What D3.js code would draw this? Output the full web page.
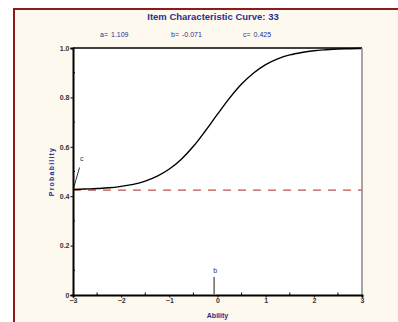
<!DOCTYPE html>
<html>
<head>
<meta charset="utf-8">
<script src="https://cdn.jsdelivr.net/npm/d3@7"></script>
<style>
  html, body { margin: 0; padding: 0; background: #ffffff; }
  svg { display: block; }
  text { font-family: "Liberation Sans Narrow", "Liberation Sans", Arial, sans-serif; }
</style>
</head>
<body>
<svg id="chart" width="398" height="322"></svg>
<script>
// Item parameters shown in the header
const itemNumber = 33;
const paramA = 1.109;
const paramB = -0.071;
const paramC = 0.425;

// Ability levels and probability of a correct response along the curve
const ability = [-3, -2.75, -2.5, -2.25, -2, -1.75, -1.5, -1.25, -1, -0.75, -0.5, -0.25,
                 0, 0.25, 0.5, 0.75, 1, 1.25, 1.5, 1.75, 2, 2.25, 2.5, 2.75, 3];
const probability = [0.427, 0.429, 0.431, 0.434, 0.440, 0.448, 0.461, 0.481, 0.510, 0.550,
                     0.602, 0.665, 0.732, 0.797, 0.854, 0.899, 0.933, 0.956, 0.972, 0.982,
                     0.989, 0.993, 0.996, 0.997, 0.998];

// Axis ticks
const xTicks = [-3, -2, -1, 0, 1, 2, 3];
const xMinorTicks = [-2.5, -1.5, -0.5, 0.5, 1.5, 2.5];
const yTicks = [0, 0.2, 0.4, 0.6, 0.8, 1.0];
const yTickLabels = ["0", "0.2", "0.4", "0.6", "0.8", "1.0"];
const yMinorTicks = [0.1, 0.3, 0.5, 0.7, 0.9];

const navy = "#2b2f8f";
const svg = d3.select("#chart");

// Outer panel with dark red frame
svg.append("rect").attr("x", 14).attr("y", 9).attr("width", 400).attr("height", 330)
  .attr("fill", "#fdf9ee").attr("stroke", "#8e1b1b").attr("stroke-width", 2);

const x = d3.scaleLinear().domain([-3, 3]).range([73, 362]);
const y = d3.scaleLinear().domain([0, 1]).range([295, 48]);

// Plot area
svg.append("rect").attr("x", x(-3)).attr("y", y(1)).attr("width", x(3) - x(-3))
  .attr("height", y(0) - y(1)).attr("fill", "#ffffff");

// Title and parameter header
svg.append("text").attr("x", 213).attr("y", 20).attr("text-anchor", "middle")
  .attr("font-size", 9.5).attr("font-weight", "bold").attr("fill", navy)
  .text("Item Characteristic Curve: " + itemNumber);
const header = [
  { name: "a=", value: paramA.toFixed(3), x: 100 },
  { name: "b=", value: paramB.toFixed(3), x: 171 },
  { name: "c=", value: paramC.toFixed(3), x: 243 }
];
const params = svg.selectAll("text.param").data(header).enter().append("text")
  .attr("class", "param").attr("x", d => d.x).attr("y", 37)
  .attr("font-size", 7).attr("fill", navy);
params.append("tspan").text(d => d.name);
params.append("tspan").attr("dx", 3).text(d => d.value);

// Lower asymptote (c) as dashed line
svg.append("line").attr("x1", x(-3)).attr("x2", x(3)).attr("y1", y(paramC)).attr("y2", y(paramC))
  .attr("stroke", "#c0504d").attr("stroke-width", 1.3).attr("stroke-dasharray", "8,7");

// Curve
const line = d3.line().x((d, i) => x(ability[i])).y(d => y(d)).curve(d3.curveMonotoneX);
svg.append("path").datum(probability).attr("d", line)
  .attr("fill", "none").attr("stroke", "#000").attr("stroke-width", 1.4);

// Frame: top black, right gray
svg.append("line").attr("x1", x(-3)).attr("x2", x(3)).attr("y1", y(1)).attr("y2", y(1))
  .attr("stroke", "#000").attr("stroke-width", 1.5);
svg.append("line").attr("x1", x(3)).attr("x2", x(3)).attr("y1", y(1)).attr("y2", y(0))
  .attr("stroke", "#888").attr("stroke-width", 1.5);

// Y axis
const yAxis = svg.append("g").attr("transform", `translate(${x(-3)},0)`)
  .call(d3.axisLeft(y).tickValues(yTicks).tickSize(2.5).tickFormat((d, i) => yTickLabels[i]));
yAxis.select(".domain").attr("stroke", "#000").attr("stroke-width", 2);
yAxis.selectAll(".tick line").attr("stroke", "#000").attr("stroke-width", 1);
yAxis.selectAll(".tick text").attr("font-size", 7).attr("font-weight", "bold")
  .attr("fill", "#333").attr("dx", 2).attr("font-family", "Liberation Sans Narrow, Liberation Sans, Arial");
svg.append("g").selectAll("line").data(yMinorTicks).enter().append("line")
  .attr("x1", x(-3)).attr("x2", x(-3) + 2).attr("y1", d => y(d)).attr("y2", d => y(d))
  .attr("stroke", "#000").attr("stroke-width", 1);

// X axis
const xAxis = svg.append("g").attr("transform", `translate(0,${y(0)})`)
  .call(d3.axisBottom(x).tickValues(xTicks).tickSize(2.5).tickFormat(d3.format("d")));
xAxis.select(".domain").attr("stroke", "#000").attr("stroke-width", 2);
xAxis.selectAll(".tick line").attr("stroke", "#000").attr("stroke-width", 1);
xAxis.selectAll(".tick text").attr("font-size", 7).attr("font-weight", "bold")
  .attr("fill", "#333").attr("dy", "0.4em").attr("font-family", "Liberation Sans Narrow, Liberation Sans, Arial");
svg.append("g").selectAll("line").data(xMinorTicks).enter().append("line")
  .attr("x1", d => x(d)).attr("x2", d => x(d)).attr("y1", y(0)).attr("y2", y(0) - 2.5)
  .attr("stroke", "#000").attr("stroke-width", 1);

// Axis titles
svg.append("text").attr("x", x(0)).attr("y", 318).attr("text-anchor", "middle")
  .attr("font-size", 7).attr("font-weight", "bold").attr("fill", navy).text("Ability");
svg.append("text").attr("transform", `translate(54,${(y(0) + y(1)) / 2}) rotate(-90)`)
  .attr("text-anchor", "middle").attr("font-size", 7).attr("font-weight", "bold")
  .attr("letter-spacing", 1.2).attr("fill", navy).text("Probability");

// Marker for c
svg.append("line").attr("x1", x(-3) + 0.5).attr("y1", y(probability[0]) - 1)
  .attr("x2", x(-3) + 6.5).attr("y2", y(probability[0]) - 22)
  .attr("stroke", "#000").attr("stroke-width", 0.8);
svg.append("text").attr("x", x(-3) + 7).attr("y", 161).attr("font-size", 7)
  .attr("fill", "#333").text("c");

// Marker for b
svg.append("line").attr("x1", x(paramB)).attr("x2", x(paramB)).attr("y1", 277).attr("y2", y(0) - 1)
  .attr("stroke", "#000").attr("stroke-width", 0.9);
svg.append("text").attr("x", x(paramB) + 1).attr("y", 273).attr("text-anchor", "middle")
  .attr("font-size", 7).attr("fill", "#333").text("b");
</script>
</body>
</html>
